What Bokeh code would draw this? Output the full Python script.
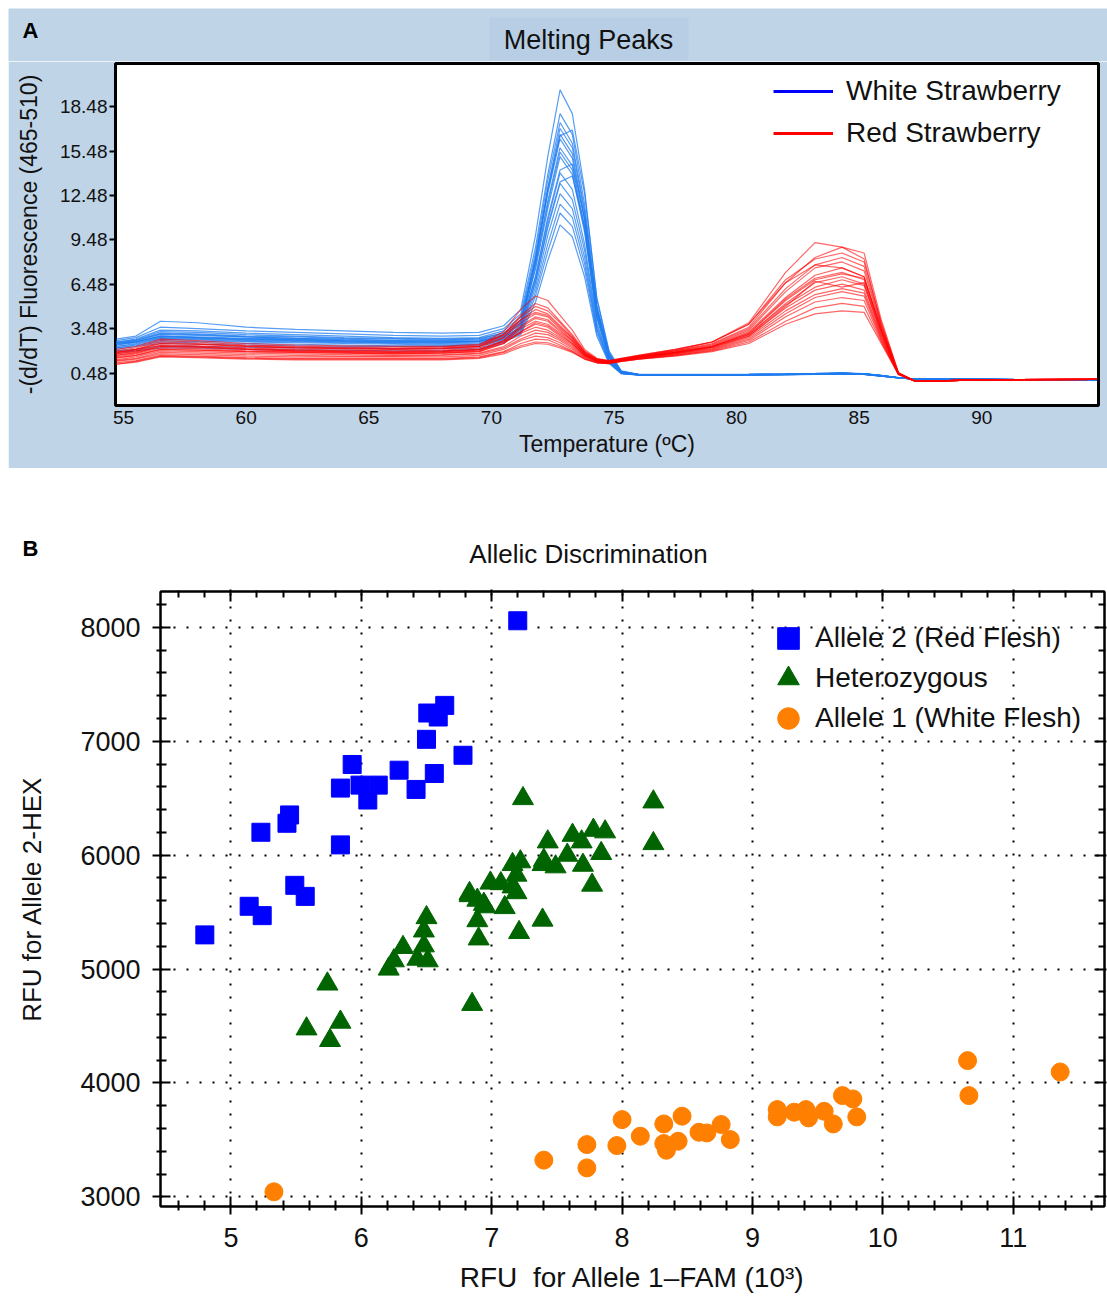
from bokeh.plotting import figure
from bokeh.models import (FixedTicker, Legend, LegendItem, Range1d, LinearAxis)
from bokeh.core.properties import value
from bokeh.embed import file_html
from bokeh.resources import INLINE

FONT = "Liberation Sans"

# ---------------- Panel A data: melting peaks ----------------
temperature = [54.7, 55.5, 56.5, 58, 60, 62, 64, 66, 68, 69.5, 70.5, 71.2, 71.8, 72.3, 72.8, 73.3,
               73.8, 74.3, 74.8, 75.3, 76, 77.5, 79, 80.5, 82, 83.2, 84.3, 85.2, 85.9, 86.6, 87.3, 90, 94.7]

white_curves = [
    [2.8, 3.0, 4.0, 3.9, 3.6, 3.45, 3.35, 3.25, 3.2, 3.25, 3.7, 4.8, 9.8, 15.1, 19.6, 18.0, 12.9, 5.5, 1.9, 0.62, 0.42, 0.42, 0.42, 0.43, 0.45, 0.48, 0.52, 0.47, 0.35, 0.2, 0.1, 0.08, 0.06],
    [2.7, 2.9, 3.6, 3.5, 3.35, 3.25, 3.15, 3.05, 3.0, 3.05, 3.5, 4.5, 9.0, 13.9, 18.0, 16.6, 11.9, 5.1, 1.8, 0.6, 0.42, 0.41, 0.41, 0.42, 0.44, 0.47, 0.5, 0.46, 0.34, 0.2, 0.1, 0.08, 0.06],
    [2.6, 2.8, 3.4, 3.35, 3.2, 3.1, 3.0, 2.9, 2.85, 2.9, 3.35, 4.3, 8.6, 13.5, 17.4, 16.0, 11.5, 4.9, 1.7, 0.58, 0.41, 0.4, 0.4, 0.41, 0.43, 0.46, 0.49, 0.45, 0.33, 0.19, 0.1, 0.08, 0.06],
    [2.6, 2.75, 3.3, 3.25, 3.1, 3.0, 2.9, 2.85, 2.8, 2.85, 3.2, 4.0, 8.0, 12.8, 16.5, 16.9, 12.6, 5.6, 2.0, 0.65, 0.42, 0.41, 0.41, 0.42, 0.44, 0.47, 0.5, 0.46, 0.35, 0.2, 0.1, 0.08, 0.06],
    [2.5, 2.7, 3.2, 3.15, 3.0, 2.95, 2.85, 2.8, 2.75, 2.8, 3.2, 4.1, 8.2, 12.6, 16.3, 15.0, 10.8, 4.6, 1.6, 0.55, 0.4, 0.4, 0.4, 0.41, 0.43, 0.46, 0.49, 0.45, 0.33, 0.19, 0.1, 0.08, 0.06],
    [2.5, 2.65, 3.1, 3.05, 2.95, 2.85, 2.8, 2.7, 2.7, 2.75, 3.1, 3.9, 7.9, 12.1, 15.7, 14.5, 10.4, 4.4, 1.6, 0.55, 0.4, 0.39, 0.39, 0.4, 0.42, 0.45, 0.48, 0.44, 0.32, 0.19, 0.1, 0.08, 0.06],
    [2.4, 2.6, 3.0, 2.95, 2.85, 2.8, 2.7, 2.65, 2.6, 2.65, 3.0, 3.8, 7.5, 11.6, 15.1, 13.9, 10.0, 4.2, 1.5, 0.52, 0.4, 0.39, 0.39, 0.4, 0.42, 0.45, 0.48, 0.44, 0.32, 0.19, 0.1, 0.08, 0.06],
    [2.5, 2.6, 3.0, 2.9, 2.8, 2.75, 2.7, 2.6, 2.6, 2.65, 2.95, 3.6, 7.0, 11.0, 14.2, 14.6, 11.0, 4.9, 1.8, 0.6, 0.41, 0.4, 0.4, 0.41, 0.43, 0.46, 0.49, 0.45, 0.33, 0.19, 0.1, 0.08, 0.06],
    [2.4, 2.55, 2.9, 2.85, 2.75, 2.7, 2.6, 2.55, 2.55, 2.6, 2.9, 3.6, 7.0, 10.8, 14.0, 12.9, 9.2, 3.9, 1.4, 0.5, 0.39, 0.38, 0.38, 0.39, 0.41, 0.44, 0.47, 0.43, 0.31, 0.18, 0.1, 0.08, 0.06],
    [2.3, 2.5, 2.85, 2.8, 2.7, 2.65, 2.6, 2.55, 2.5, 2.55, 2.85, 3.5, 6.7, 10.3, 13.3, 12.2, 8.8, 3.7, 1.35, 0.5, 0.39, 0.38, 0.38, 0.39, 0.41, 0.44, 0.47, 0.43, 0.31, 0.18, 0.1, 0.08, 0.06],
    [2.3, 2.45, 2.8, 2.75, 2.65, 2.6, 2.55, 2.5, 2.45, 2.5, 2.8, 3.4, 6.3, 9.8, 12.6, 11.6, 8.3, 3.5, 1.3, 0.48, 0.38, 0.37, 0.37, 0.38, 0.4, 0.43, 0.46, 0.42, 0.3, 0.18, 0.1, 0.08, 0.06],
    [2.2, 2.4, 2.7, 2.65, 2.6, 2.55, 2.5, 2.45, 2.4, 2.45, 2.75, 3.3, 6.0, 9.2, 11.9, 11.0, 7.9, 3.4, 1.25, 0.48, 0.38, 0.37, 0.37, 0.38, 0.4, 0.43, 0.46, 0.42, 0.3, 0.18, 0.1, 0.08, 0.06],
    [2.2, 2.35, 2.6, 2.55, 2.5, 2.45, 2.4, 2.35, 2.35, 2.4, 2.7, 3.2, 5.7, 8.7, 11.3, 10.4, 7.5, 3.2, 1.2, 0.47, 0.38, 0.37, 0.37, 0.38, 0.4, 0.43, 0.46, 0.42, 0.3, 0.18, 0.1, 0.08, 0.06],
    [2.1, 2.3, 2.5, 2.45, 2.4, 2.35, 2.3, 2.3, 2.3, 2.35, 2.6, 3.1, 5.3, 8.1, 10.5, 9.7, 7.0, 3.0, 1.15, 0.46, 0.37, 0.36, 0.36, 0.37, 0.39, 0.42, 0.45, 0.41, 0.3, 0.18, 0.1, 0.08, 0.06],
    [2.0, 2.1, 2.35, 2.3, 2.25, 2.2, 2.2, 2.15, 2.15, 2.2, 2.6, 3.8, 8.3, 13.0, 17.0, 15.7, 11.3, 4.8, 1.7, 0.57, 0.41, 0.4, 0.4, 0.41, 0.43, 0.46, 0.49, 0.45, 0.33, 0.19, 0.1, 0.08, 0.06],
    [1.9, 2.0, 2.2, 2.2, 2.1, 2.05, 2.05, 2.0, 2.0, 2.1, 2.5, 3.6, 7.7, 11.9, 15.4, 14.2, 10.2, 4.3, 1.55, 0.53, 0.4, 0.39, 0.39, 0.4, 0.42, 0.45, 0.48, 0.44, 0.32, 0.19, 0.1, 0.08, 0.06],
    [2.45, 2.6, 2.95, 2.9, 2.8, 2.75, 2.65, 2.6, 2.6, 2.65, 3.0, 3.9, 8.2, 12.9, 16.6, 15.3, 10.9, 4.7, 1.65, 0.56, 0.4, 0.39, 0.39, 0.4, 0.42, 0.45, 0.48, 0.44, 0.32, 0.19, 0.1, 0.08, 0.06],
    [2.55, 2.7, 3.15, 3.1, 2.95, 2.85, 2.75, 2.7, 2.65, 2.7, 3.0, 3.5, 6.6, 10.5, 13.4, 13.8, 10.4, 4.6, 1.7, 0.58, 0.41, 0.4, 0.4, 0.41, 0.43, 0.46, 0.49, 0.45, 0.33, 0.19, 0.1, 0.08, 0.06],
]

red_curves = [
    [2.0, 2.2, 2.7, 2.6, 2.4, 2.3, 2.25, 2.2, 2.25, 2.4, 3.3, 4.8, 5.7, 5.4, 4.4, 3.4, 2.1, 1.5, 1.35, 1.5, 1.7, 2.1, 2.6, 3.9, 7.3, 9.3, 9.0, 8.2, 3.8, 0.5, -0.05, 0.05, 0.08],
    [1.9, 2.1, 2.5, 2.45, 2.3, 2.2, 2.15, 2.1, 2.15, 2.3, 3.1, 4.4, 5.2, 4.9, 4.0, 3.1, 2.0, 1.45, 1.3, 1.45, 1.65, 2.0, 2.5, 3.6, 6.6, 8.3, 9.0, 8.6, 4.1, 0.55, -0.05, 0.05, 0.08],
    [1.8, 2.0, 2.4, 2.35, 2.2, 2.1, 2.05, 2.0, 2.05, 2.2, 2.9, 4.1, 4.8, 4.5, 3.7, 2.9, 1.9, 1.4, 1.3, 1.45, 1.65, 2.0, 2.45, 3.5, 6.2, 7.8, 8.3, 7.7, 3.7, 0.5, -0.05, 0.05, 0.08],
    [1.9, 2.1, 2.6, 2.5, 2.35, 2.25, 2.2, 2.15, 2.2, 2.3, 2.9, 3.9, 4.5, 4.3, 3.5, 2.8, 1.85, 1.4, 1.3, 1.45, 1.6, 1.95, 2.4, 3.4, 6.0, 7.6, 8.0, 7.4, 3.6, 0.5, -0.05, 0.05, 0.08],
    [1.7, 1.9, 2.3, 2.25, 2.1, 2.0, 1.95, 1.9, 1.95, 2.05, 2.7, 3.7, 4.3, 4.1, 3.4, 2.7, 1.8, 1.35, 1.25, 1.4, 1.6, 1.9, 2.35, 3.3, 5.6, 7.1, 7.6, 7.0, 3.4, 0.48, -0.05, 0.05, 0.08],
    [1.6, 1.8, 2.2, 2.15, 2.0, 1.95, 1.9, 1.85, 1.9, 2.0, 2.6, 3.5, 4.0, 3.8, 3.2, 2.6, 1.75, 1.35, 1.25, 1.4, 1.55, 1.9, 2.3, 3.2, 5.5, 6.9, 7.3, 6.8, 3.3, 0.47, -0.05, 0.05, 0.08],
    [1.5, 1.7, 2.1, 2.05, 1.95, 1.9, 1.85, 1.8, 1.85, 1.95, 2.5, 3.3, 3.8, 3.6, 3.0, 2.5, 1.7, 1.3, 1.2, 1.35, 1.55, 1.85, 2.25, 3.1, 5.2, 6.6, 7.0, 6.5, 3.2, 0.46, -0.05, 0.05, 0.08],
    [1.8, 1.95, 2.35, 2.3, 2.15, 2.05, 2.0, 1.95, 2.0, 2.1, 2.6, 3.2, 3.6, 3.4, 2.9, 2.4, 1.7, 1.35, 1.25, 1.4, 1.6, 1.9, 2.3, 3.1, 5.1, 6.3, 6.8, 6.4, 3.1, 0.45, -0.05, 0.05, 0.08],
    [1.4, 1.6, 2.0, 1.95, 1.85, 1.8, 1.75, 1.7, 1.75, 1.85, 2.3, 3.0, 3.4, 3.25, 2.8, 2.3, 1.65, 1.3, 1.2, 1.35, 1.5, 1.8, 2.2, 3.0, 4.9, 6.1, 6.5, 6.1, 3.0, 0.45, -0.05, 0.05, 0.08],
    [1.35, 1.5, 1.9, 1.85, 1.75, 1.7, 1.65, 1.65, 1.7, 1.8, 2.2, 2.8, 3.2, 3.1, 2.7, 2.2, 1.6, 1.25, 1.2, 1.35, 1.5, 1.8, 2.15, 2.9, 4.7, 5.8, 6.2, 5.9, 2.9, 0.44, -0.05, 0.05, 0.08],
    [1.3, 1.45, 1.8, 1.75, 1.65, 1.6, 1.6, 1.6, 1.6, 1.7, 2.1, 2.7, 3.0, 2.9, 2.55, 2.1, 1.55, 1.25, 1.2, 1.35, 1.5, 1.75, 2.1, 2.8, 4.5, 5.6, 6.0, 5.7, 2.8, 0.43, -0.05, 0.05, 0.08],
    [1.2, 1.35, 1.7, 1.65, 1.55, 1.5, 1.5, 1.5, 1.5, 1.6, 1.95, 2.5, 2.8, 2.75, 2.4, 2.0, 1.5, 1.2, 1.15, 1.3, 1.45, 1.7, 2.05, 2.7, 4.3, 5.3, 5.6, 5.4, 2.7, 0.42, -0.05, 0.05, 0.08],
    [1.1, 1.3, 1.65, 1.6, 1.5, 1.45, 1.45, 1.45, 1.45, 1.55, 1.9, 2.35, 2.6, 2.55, 2.3, 1.95, 1.45, 1.2, 1.15, 1.3, 1.45, 1.7, 2.0, 2.6, 4.0, 4.9, 5.2, 5.0, 2.6, 0.42, -0.05, 0.05, 0.08],
    [1.1, 1.25, 1.6, 1.55, 1.45, 1.4, 1.4, 1.4, 1.4, 1.5, 1.8, 2.25, 2.5, 2.45, 2.2, 1.9, 1.45, 1.2, 1.15, 1.3, 1.45, 1.65, 1.95, 2.5, 3.8, 4.5, 4.7, 4.6, 2.5, 0.41, -0.05, 0.05, 0.08],
    [1.9, 2.05, 2.5, 2.45, 2.3, 2.2, 2.15, 2.1, 2.15, 2.3, 3.1, 4.3, 5.0, 4.7, 3.9, 3.0, 1.95, 1.45, 1.3, 1.45, 1.65, 2.05, 2.6, 3.8, 6.6, 7.8, 7.6, 7.0, 3.4, 0.48, -0.05, 0.05, 0.08],
    [1.7, 1.85, 2.3, 2.25, 2.1, 2.0, 1.95, 1.9, 1.95, 2.1, 2.7, 3.6, 4.2, 4.0, 3.3, 2.7, 1.8, 1.35, 1.25, 1.4, 1.6, 1.9, 2.3, 3.2, 5.4, 6.8, 7.2, 6.9, 3.5, 0.5, -0.05, 0.05, 0.08],
    [1.55, 1.7, 2.1, 2.05, 1.95, 1.9, 1.85, 1.8, 1.85, 1.95, 2.5, 3.3, 3.9, 3.7, 3.1, 2.5, 1.7, 1.3, 1.2, 1.35, 1.55, 1.85, 2.25, 3.0, 5.0, 6.7, 6.3, 6.6, 3.3, 0.47, -0.05, 0.05, 0.08],
    [2.1, 2.3, 2.8, 2.7, 2.5, 2.4, 2.35, 2.3, 2.3, 2.45, 3.1, 4.1, 4.6, 4.4, 3.6, 2.9, 1.9, 1.45, 1.35, 1.5, 1.7, 2.1, 2.6, 3.8, 6.8, 8.2, 8.6, 8.0, 3.9, 0.52, -0.05, 0.05, 0.08],
]

a_y_ticks = [0.48, 3.48, 6.48, 9.48, 12.48, 15.48, 18.48]
a_x_ticks = [55, 60, 65, 70, 75, 80, 85, 90]

# ---------------- Panel B data: allelic discrimination (x in 10^3 RFU) ----------------
allele2_x = [7.20, 6.64, 6.51, 6.59, 6.50, 6.78, 5.93, 6.29, 6.56, 5.84, 5.99, 6.13, 6.05, 6.42,
             5.45, 5.43, 5.23, 5.84, 5.49, 5.57, 5.14, 5.24, 4.80]
allele2_y = [8058, 7315, 7248, 7213, 7017, 6877, 6796, 6746, 6717, 6589, 6615, 6615, 6484, 6577,
             6353, 6280, 6201, 6090, 5735, 5638, 5551, 5469, 5300]

het_x = [5.58, 5.74, 5.76, 5.84, 6.21, 6.25, 6.32, 6.43, 6.51, 6.48, 6.48, 6.50, 6.85, 6.83, 6.89,
         6.90, 6.94, 6.89, 6.95, 6.83, 6.99, 7.07, 7.10, 7.16, 7.19, 7.16, 7.19, 7.21, 7.22, 7.24,
         7.39, 7.39, 7.43, 7.40, 7.49, 7.58, 7.62, 7.69, 7.70, 7.78, 7.87, 7.84, 7.77, 8.24, 8.24]
het_y = [4475, 4869, 4373, 4534, 5000, 5073, 5190, 5087, 5073, 5204, 5335, 5452, 4690, 5645, 5425,
         5265, 5569, 5605, 5547, 5664, 5755, 5750, 5540, 5918, 5825, 5722, 5671, 5321, 5942, 6497,
         5430, 5918, 6117, 5956, 5898, 6000, 6175, 6117, 5912, 6219, 6205, 6015, 5737, 6468, 6102]

allele1_x = [5.33, 7.40, 7.73, 7.73, 7.96, 8.00, 8.14, 8.32, 8.32, 8.34, 8.43, 8.46, 8.59, 8.65,
             8.76, 8.83, 9.19, 9.19, 9.32, 9.41, 9.43, 9.55, 9.62, 9.69, 9.77, 9.80, 10.65, 10.66, 11.36]
allele1_y = [3044, 3322, 3459, 3254, 3450, 3678, 3532, 3640, 3468, 3409, 3488, 3708, 3567, 3561,
             3635, 3503, 3766, 3702, 3743, 3766, 3693, 3751, 3640, 3889, 3860, 3702, 4196, 3889, 4096]

b_x_ticks = [5, 6, 7, 8, 9, 10, 11]
b_x_minor = [4.6, 4.8, 5.2, 5.4, 5.6, 5.8, 6.2, 6.4, 6.6, 6.8, 7.2, 7.4, 7.6, 7.8, 8.2, 8.4, 8.6, 8.8,
             9.2, 9.4, 9.6, 9.8, 10.2, 10.4, 10.6, 10.8, 11.2, 11.4, 11.6]
b_y_ticks = [3000, 4000, 5000, 6000, 7000, 8000]
b_y_minor = [3200, 3400, 3600, 3800, 4200, 4400, 4600, 4800, 5200, 5400, 5600, 5800,
             6200, 6400, 6600, 6800, 7200, 7400, 7600, 7800, 8200]

PANEL_BG = "#c0d4e7"
TITLE_BOX = "#b8cee5"
TXT = "#111111"
W = 1099


def header(height, bg):
    """A strip whose frame is the whole strip, for the panel letter and the title (pixel coords)."""
    h = figure(width=W, height=height, x_range=Range1d(0, W), y_range=Range1d(height, 0),
               output_backend="svg", toolbar_location=None, x_axis_location=None, y_axis_location=None,
               min_border=0)
    h.margin = (0, 0, 0, 8)
    h.xgrid.visible = False
    h.ygrid.visible = False
    h.outline_line_color = None
    h.background_fill_color = bg
    h.border_fill_color = bg
    return h


# ================= Panel A header =================
ha = header(53, PANEL_BG)
ha.margin = (8, 0, 0, 8)
ha.quad(left=[481], right=[680], top=[9], bottom=[52], fill_color=TITLE_BOX, line_color=None)
ha.text(x=[580], y=[31], text=["Melting Peaks"], text_align="center", text_baseline="middle",
        text_font=value(FONT), text_font_size="27px", text_color=TXT)
ha.text(x=[22], y=[22], text=["A"], text_align="center", text_baseline="middle",
        text_font=value(FONT), text_font_size="22px", text_font_style="bold", text_color="black")

# ================= Panel A =================
pa = figure(width=W, height=407, x_range=Range1d(54.67, 94.76), y_range=Range1d(-1.68, 21.38),
            output_backend="svg", toolbar_location=None,
            min_border_left=107, min_border_right=9, min_border_top=2, min_border_bottom=63)
pa.margin = (0, 0, 0, 8)
pa.border_fill_color = PANEL_BG
pa.background_fill_color = "white"
pa.outline_line_color = "black"
pa.outline_line_width = 3
pa.xgrid.visible = False
pa.ygrid.visible = False

pa.multi_line(xs=[temperature] * len(white_curves), ys=white_curves,
              line_color="#1f7cf0", line_alpha=0.75, line_width=1.2)
pa.multi_line(xs=[temperature] * len(red_curves), ys=red_curves,
              line_color="#ff0000", line_alpha=0.6, line_width=1.2)

# single-point renderers (invisible on the plot) that only provide the legend swatches
leg_w = pa.line(x=temperature[-1:], y=white_curves[0][-1:], line_color="#0000ff", line_width=3)
leg_r = pa.line(x=temperature[-1:], y=red_curves[0][-1:], line_color="#ff0000", line_width=3)
la = Legend(items=[LegendItem(label="White Strawberry", renderers=[leg_w]),
                   LegendItem(label="Red Strawberry", renderers=[leg_r])],
            location=(658, 256), glyph_width=60, glyph_height=28, label_height=28, spacing=10,
            label_standoff=13, padding=0, margin=0, background_fill_alpha=0, border_line_alpha=0,
            label_text_font=FONT, label_text_font_size="28px", label_text_color=TXT)
pa.add_layout(la, "center")

xa = pa.xaxis[0]
xa.ticker = FixedTicker(ticks=a_x_ticks)
xa.axis_label = "Temperature (ºC)"
ya = pa.yaxis[0]
ya.ticker = FixedTicker(ticks=a_y_ticks)
ya.axis_label = "-(d/dT) Fluorescence (465-510)"
for ax in (xa, ya):
    ax.axis_line_color = None
    ax.minor_tick_line_color = None
    ax.major_label_text_font = FONT
    ax.major_label_text_font_size = "19px"
    ax.major_label_text_color = TXT
    ax.axis_label_text_font = FONT
    ax.axis_label_text_font_size = "23px"
    ax.axis_label_text_font_style = "normal"
    ax.axis_label_text_color = TXT
xa.major_tick_line_color = None
xa.major_tick_out = 0
xa.major_tick_in = 0
xa.major_label_standoff = 5
xa.axis_label_standoff = 4
ya.major_tick_line_color = "black"
ya.major_tick_line_width = 2
ya.major_tick_out = 6
ya.major_tick_in = 0
ya.major_label_standoff = 2
ya.axis_label_standoff = 15

# ================= Panel B header =================
hb = header(120, "white")
hb.text(x=[580], y=[85], text=["Allelic Discrimination"], text_align="center", text_baseline="middle",
        text_font=value(FONT), text_font_size="26px", text_color=TXT)
hb.text(x=[22], y=[80], text=["B"], text_align="center", text_baseline="middle",
        text_font=value(FONT), text_font_size="22px", text_font_style="bold", text_color="black")

# ================= Panel B =================
pb = figure(width=W, height=712, x_range=Range1d(4.46, 11.70), y_range=Range1d(2915, 8315),
            output_backend="svg", toolbar_location=None,
            min_border_left=152, min_border_right=3, min_border_top=3, min_border_bottom=94)
pb.margin = (0, 0, 0, 8)
pb.background_fill_color = "white"
pb.border_fill_color = "white"
pb.outline_line_color = "black"
pb.outline_line_width = 2

r2 = pb.scatter(allele2_x, allele2_y, marker="square", size=18, fill_color="#0000ff", line_color="#0000ff")
rh = pb.scatter(het_x, het_y, marker="triangle", size=21, fill_color="#006400", line_color="#006400")
r1 = pb.scatter(allele1_x, allele1_y, marker="circle", size=18, fill_color="#ff8000", line_color="#ff8000")

for lab, rend, ypos in (("Allele 2 (Red Flesh)", r2, 541), ("Heterozygous", rh, 501),
                        ("Allele 1 (White Flesh)", r1, 461)):
    lg = Legend(items=[LegendItem(label=lab, renderers=[rend])],
                location=(601, ypos), glyph_width=54, glyph_height=54, label_height=30,
                label_standoff=0, padding=0, margin=0, background_fill_alpha=0, border_line_alpha=0,
                label_text_font=FONT, label_text_font_size="28px", label_text_color=TXT)
    pb.add_layout(lg, "center")

for g in (pb.xgrid[0], pb.ygrid[0]):
    g.grid_line_color = "black"
    g.grid_line_dash = "2 11"
    g.grid_line_width = 2
pb.xgrid[0].ticker = FixedTicker(ticks=b_x_ticks)
pb.ygrid[0].ticker = FixedTicker(ticks=b_y_ticks)

xb = pb.xaxis[0]
yb = pb.yaxis[0]
xb.ticker = FixedTicker(ticks=b_x_ticks, minor_ticks=b_x_minor)
yb.ticker = FixedTicker(ticks=b_y_ticks, minor_ticks=b_y_minor)
xb.axis_label = "RFU\u00a0\u00a0for Allele 1–FAM (10³)"
yb.axis_label = "RFU for Allele 2-HEX"

top_ax = LinearAxis(ticker=FixedTicker(ticks=b_x_ticks, minor_ticks=b_x_minor))
right_ax = LinearAxis(ticker=FixedTicker(ticks=b_y_ticks, minor_ticks=b_y_minor))
for ax in (xb, yb, top_ax, right_ax):
    ax.axis_line_color = "black"
    ax.axis_line_width = 2
    ax.major_tick_line_color = "black"
    ax.major_tick_line_width = 2
    ax.minor_tick_line_color = "black"
    ax.minor_tick_line_width = 2
    ax.major_tick_in = 10
    ax.major_tick_out = 8
    ax.minor_tick_in = 6
    ax.minor_tick_out = 4
    ax.major_label_text_font = FONT
    ax.major_label_text_font_size = "27px"
    ax.major_label_text_color = TXT
    ax.axis_label_text_font = FONT
    ax.axis_label_text_font_size = "26px"
    ax.axis_label_text_font_style = "normal"
    ax.axis_label_text_color = TXT
for ax in (top_ax, right_ax):
    ax.major_label_text_font_size = "0px"
    ax.major_label_text_color = None
    ax.major_label_standoff = 0
    ax.major_tick_out = 2
    ax.minor_tick_out = 1
xb.axis_label_text_font_size = "28px"
xb.major_label_standoff = 13
xb.axis_label_standoff = 12
yb.major_label_standoff = 12
yb.axis_label_standoff = 30
pb.add_layout(top_ax, "above")
pb.add_layout(right_ax, "right")

open("out.html", "w").write(file_html([ha, pa, hb, pb], INLINE))
